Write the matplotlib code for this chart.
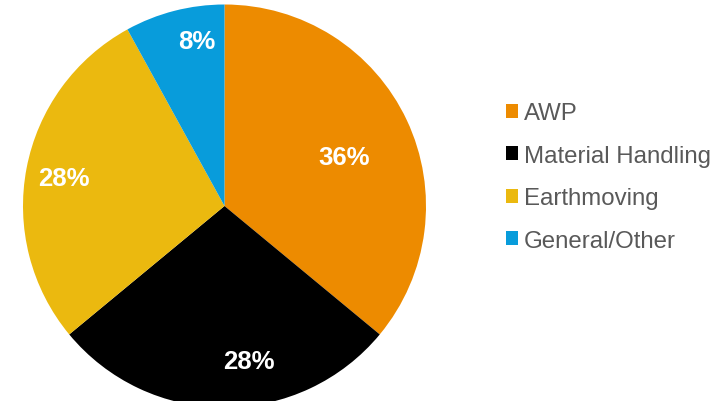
import matplotlib.pyplot as plt
import numpy as np
from matplotlib.patches import Patch

plt.rcParams['font.family'] = ['Liberation Sans', 'DejaVu Sans']

# share by segment
segments = ['AWP', 'Material Handling', 'Earthmoving', 'General/Other']
shares = [36, 28, 28, 8]
colors = ['#ED8B00', '#000000', '#EBB90F', '#089CDB']

# how far from the centre each percentage sits (fraction of radius)
label_radius = [0.64, 0.78, 0.81, 0.83]
label_shift = [-3, 9, 1, -5]  # degrees

fig = plt.figure(figsize=(7.23, 4.02), dpi=100)
W, H = 723, 402
cx, cy, r = 224.5, 207, 201.5
ax = fig.add_axes([(cx - r) / W, (H - cy - r) / H, 2 * r / W, 2 * r / H])

wedges, _ = ax.pie(shares, colors=colors, startangle=90, counterclock=False,
                   radius=1.0, wedgeprops=dict(linewidth=0))
ax.set_xlim(-1, 1)
ax.set_ylim(-1, 1)
ax.set_aspect('equal')
ax.axis('off')

for w, v, d, s in zip(wedges, shares, label_radius, label_shift):
    ang = np.deg2rad((w.theta1 + w.theta2) / 2 + s)
    ax.text(d * np.cos(ang), d * np.sin(ang), f'{v}%', color='white',
            fontsize=18.5, fontweight='bold', ha='center', va='center')

handles = [Patch(facecolor=c, edgecolor='none') for c in colors]
fig.legend(handles, segments, loc='center left', bbox_to_anchor=(484 / W, 1 - 178 / H),
           frameon=False, fontsize=17.3, labelcolor='#595959',
           handlelength=0.5, handleheight=0.5, handletextpad=0.25, labelspacing=0.85)

fig.savefig('out.png', dpi=100)
